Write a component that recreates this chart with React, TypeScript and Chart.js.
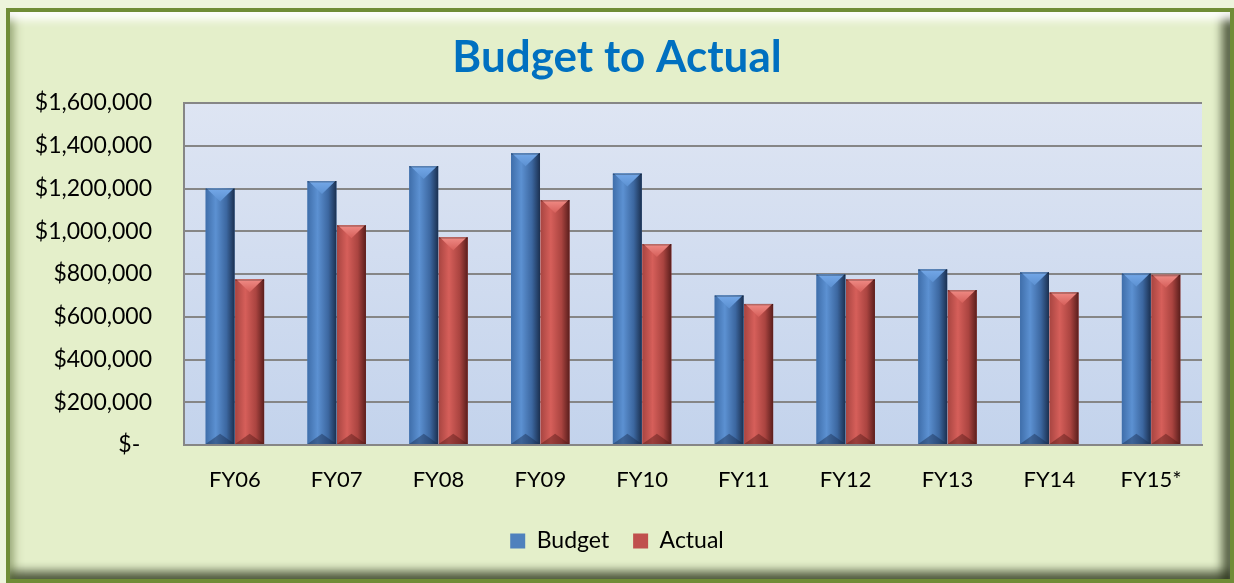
import React, { useEffect, useRef } from "react";
import { Chart, registerables } from "chart.js";

Chart.register(...registerables);

const categories = ["FY06", "FY07", "FY08", "FY09", "FY10", "FY11", "FY12", "FY13", "FY14", "FY15*"];
const budget = [1200000, 1235000, 1305000, 1365000, 1270000, 700000, 798000, 822000, 808000, 802000];
const actual = [775000, 1028000, 972000, 1146000, 940000, 660000, 775000, 725000, 714000, 796000];
const seriesNames = ["Budget", "Actual"];
const yMax = 1600000;
const yStep = 200000;

const FONT = "Lato, 'Open Sans', sans-serif";

const palettes = [
  { base: "#4F81BD", stops: ["#3F6EAA", "#5C91D2", "#3C67A0", "#1B3050"], top: "#74A8E8", bottom: "rgba(25,45,80,0.45)" },
  { base: "#C0504D", stops: ["#A84541", "#D65F5A", "#AA4440", "#5A1E1C"], top: "#F08C86", bottom: "rgba(85,25,22,0.45)" },
];

const plotBg = {
  id: "plotBg",
  beforeDraw(chart: any) {
    const { ctx, chartArea } = chart;
    if (!chartArea) return;
    const g = ctx.createLinearGradient(0, chartArea.top, 0, chartArea.bottom);
    g.addColorStop(0, "#DEE5F3");
    g.addColorStop(1, "#C3D3EC");
    ctx.save();
    ctx.fillStyle = g;
    ctx.fillRect(chartArea.left, chartArea.top, chartArea.right - chartArea.left, chartArea.bottom - chartArea.top);
    ctx.restore();
  },
};

const bevelBars = {
  id: "bevelBars",
  afterDatasetsDraw(chart: any) {
    const { ctx } = chart;
    chart.data.datasets.forEach((_ds: any, di: number) => {
      const meta = chart.getDatasetMeta(di);
      const pal = palettes[di % palettes.length];
      meta.data.forEach((el: any) => {
        const { x, y, base, width } = el.getProps(["x", "y", "base", "width"], true);
        const L = x - width / 2;
        const R = x + width / 2;
        const T = Math.min(y, base);
        const B = Math.max(y, base);
        const h = B - T;
        ctx.save();
        const g = ctx.createLinearGradient(L, 0, R, 0);
        g.addColorStop(0, pal.stops[0]);
        g.addColorStop(0.35, pal.stops[1]);
        g.addColorStop(0.72, pal.stops[2]);
        g.addColorStop(1, pal.stops[3]);
        ctx.fillStyle = g;
        ctx.fillRect(L, T, width, h);
        const th = Math.min(width * 0.45, h / 2);
        const tg = ctx.createLinearGradient(0, T, 0, T + th);
        tg.addColorStop(0, pal.top);
        tg.addColorStop(1, pal.stops[1]);
        ctx.fillStyle = tg;
        ctx.beginPath();
        ctx.moveTo(L + 1, T);
        ctx.lineTo(R - 1, T);
        ctx.lineTo(x, T + th);
        ctx.closePath();
        ctx.fill();
        const bh = Math.min(width * 0.35, h / 2);
        ctx.fillStyle = pal.bottom;
        ctx.beginPath();
        ctx.moveTo(L, B);
        ctx.lineTo(R, B);
        ctx.lineTo(x, B - bh);
        ctx.closePath();
        ctx.fill();
        ctx.fillStyle = "rgba(0,0,0,0.25)";
        ctx.fillRect(L, T, width, 1.5);
        ctx.restore();
      });
    });
  },
};

export default function App() {
  const ref = useRef<HTMLCanvasElement | null>(null);

  useEffect(() => {
    if (!ref.current) return;
    const chart = new Chart(ref.current, {
      type: "bar",
      data: {
        labels: categories,
        datasets: [
          { label: seriesNames[0], data: budget, backgroundColor: palettes[0].base, borderWidth: 0, yAxisID: "y" },
          { label: seriesNames[1], data: actual, backgroundColor: palettes[1].base, borderWidth: 0, yAxisID: "y" },
        ],
      },
      options: {
        responsive: false,
        animation: false,
        devicePixelRatio: 1,
        datasets: { bar: { categoryPercentage: 0.58, barPercentage: 0.98 } },
        layout: { padding: { left: 0, right: 0, top: 0, bottom: 20.5 } },
        plugins: {
          tooltip: { enabled: false },
          title: {
            display: true,
            text: "Budget to Actual",
            color: "#0070C0",
            font: { family: FONT, size: 44, weight: "bold", lineHeight: 1.2 },
            padding: { top: 31.6, bottom: 18.6 },
          },
          legend: {
            position: "bottom",
            labels: {
              color: "#000000",
              font: { family: FONT, size: 23 },
              boxWidth: 15,
              boxHeight: 15,
              padding: 24,
            },
          },
        },
        scales: {
          x: {
            grid: { display: false, drawTicks: false },
            border: { display: true, color: "#868686", width: 2 },
            ticks: { color: "#000000", font: { family: FONT, size: 22 }, padding: 21.8 },
            afterFit: (s: any) => { s.height = 60.5; },
          },
          y: {
            min: 0,
            max: yMax,
            grid: { color: "#868686", lineWidth: 2, drawTicks: false },
            border: { display: true, color: "#868686", width: 2 },
            ticks: {
              stepSize: yStep,
              color: "#000000",
              font: { family: FONT, size: 23 },
              padding: 32,
              callback: (v: any) => (Number(v) === 0 ? "$-  " : "$" + Number(v).toLocaleString("en-US")),
            },
            afterFit: (s: any) => { s.width = 184; },
          },
          yRight: {
            position: "right",
            display: true,
            grid: { display: false, drawTicks: false },
            border: { display: false },
            ticks: { display: false },
            afterFit: (s: any) => { s.width = 32; },
          },
        },
      },
      plugins: [plotBg, bevelBars],
    });
    return () => chart.destroy();
  }, []);

  return (
    <div style={{ position: "fixed", left: 0, top: 0, width: 1234, height: 583, background: "#EDF4DC", overflow: "hidden" }}>
      <div
        style={{
          position: "absolute",
          left: 6,
          top: 8,
          width: 1228,
          height: 575,
          boxSizing: "border-box",
          background: "#E4EFCA",
          border: "4px solid #6F8C36",
          boxShadow:
            "inset 0 14px 8px -6px rgba(255,255,255,0.95), inset 12px 0 10px -8px rgba(90,110,50,0.55), inset -14px 0 10px -6px rgba(40,50,25,0.75), inset 0 -14px 10px -6px rgba(40,50,25,0.75)",
        }}
      />
      <canvas ref={ref} width={1234} height={583} style={{ position: "absolute", left: 0, top: 0, width: 1234, height: 583 }} />
    </div>
  );
}
